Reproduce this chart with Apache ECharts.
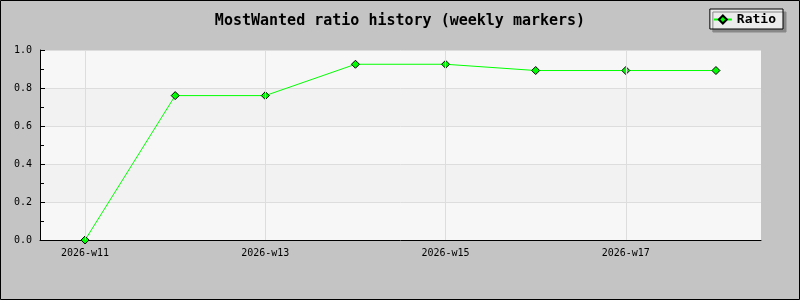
<!DOCTYPE html>
<html><head><meta charset="utf-8">
<script src="https://cdn.jsdelivr.net/npm/echarts@6/dist/echarts.min.js"></script>
<style>html,body{margin:0;padding:0;}#c{width:800px;height:300px;}</style>
</head><body><div id="c"></div>
<script>
var categories = ['2026-w11','2026-w12','2026-w13','2026-w14','2026-w15','2026-w16','2026-w17','2026-w18'];
var ratioValues = [0.0, 0.76, 0.76, 0.925, 0.925, 0.892, 0.892, 0.892];
var yTicks = [0, 0.2, 0.4, 0.6, 0.8, 1.0];
var gridCategories = categories.filter(function (c, i) { return i % 2 === 0; });
var mono = '"DejaVu Sans Mono", "Liberation Mono", monospace';
var chart = echarts.init(document.getElementById('c'));
chart.setOption({
  backgroundColor: '#c4c4c4',
  animation: false,
  graphic: [{type:'rect', shape:{x:0.5,y:0.5,width:799,height:299}, style:{fill:'none', stroke:'#000', lineWidth:1}, z:100}],
  title: {
    text: 'MostWanted ratio history (weekly markers)',
    left: 'center', top: 9,
    textStyle: {fontFamily: mono, fontWeight: 'bold', fontSize: 15, color: '#000'}
  },
  legend: {
    right: 17, top: 9,
    padding: [4, 7, 3, 3],
    backgroundColor: '#ececec', borderColor: '#000', borderWidth: 1,
    shadowColor: '#888', shadowOffsetX: 3, shadowOffsetY: 3, shadowBlur: 0.01,
    itemWidth: 18, itemHeight: 10, itemGap: 6,
    textStyle: {fontFamily: mono, fontWeight: 'bold', fontSize: 13, color: '#000'},
    data: ['Ratio']
  },
  grid: {left: 40, right: 39, top: 50, bottom: 60, show: true, backgroundColor: '#f7f7f7', borderWidth: 0},
  xAxis: {
    type: 'category', data: categories, boundaryGap: true,
    axisLine: {lineStyle: {color: '#000', width: 1}},
    axisTick: {show: true, inside: true, length: 5, alignWithLabel: true, interval: 1, lineStyle: {color: '#000'}},
    axisLabel: {interval: 1, fontFamily: mono, fontSize: 10, color: '#000', margin: 8},
    splitLine: {show: false}
  },
  yAxis: {
    type: 'value', min: 0, max: 1, interval: 0.2,
    axisLine: {show: true, lineStyle: {color: '#000', width: 1}},
    axisTick: {show: true, inside: true, length: 5, lineStyle: {color: '#000'}},
    minorTick: {show: true, splitNumber: 2, length: 4, lineStyle: {color: '#000'}},
    axisLabel: {fontFamily: mono, fontSize: 10, color: '#000', margin: 8,
      formatter: function (v) { return yTicks.indexOf(Math.round(v*10)/10) >= 0 ? v.toFixed(1) : ''; }},
    splitLine: {show: true, lineStyle: {color: '#dddddd', width: 1}},
    splitArea: {show: true, areaStyle: {color: ['#f7f7f7', '#f2f2f2']}}
  },
  series: [{
    name: 'gridlines', type: 'line', data: [], z: 1, silent: true,
    markLine: {
      silent: true, symbol: 'none', animation: false,
      label: {show: false},
      lineStyle: {color: '#dddddd', type: 'solid', width: 1},
      data: gridCategories.map(function (c) { return {xAxis: c}; })
    }
  }, {
    name: 'Ratio', type: 'line', data: ratioValues, z: 3,
    symbol: 'diamond', symbolSize: 8,
    lineStyle: {color: '#00ff00', width: 1},
    itemStyle: {color: '#00ff00', borderColor: '#000', borderWidth: 1}
  }]
});
</script></body></html>
